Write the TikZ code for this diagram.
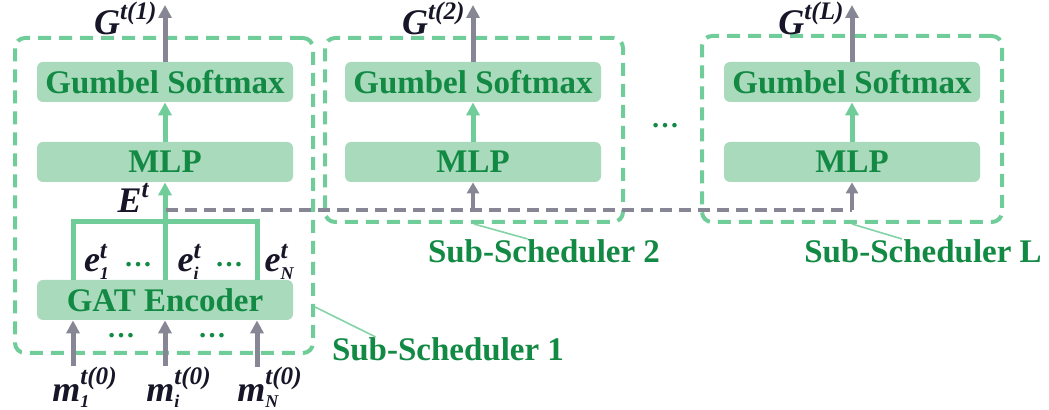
\documentclass[tikz,border=0pt]{standalone}
\usepackage{amsmath}
\usepackage{fontspec}
\setmainfont{Liberation Serif}
\usetikzlibrary{arrows.meta,positioning,fit}
\definecolor{lnGreen}{RGB}{112,204,152}
\definecolor{boxFill}{RGB}{170,218,188}
\definecolor{txtGreen}{RGB}{18,138,68}
\definecolor{leadGreen}{RGB}{130,212,166}
\definecolor{arrGray}{RGB}{134,134,148}
\definecolor{labInk}{RGB}{22,22,40}
\newcommand{\vb}[1]{\textbf{\textit{#1}}}
\newcommand{\vs}[1]{{\scriptscriptstyle\textbf{\textit{#1}}}}

\begin{document}
\begin{tikzpicture}[x=0.5pt,y=-0.5pt,
  blk/.style={fill=boxFill,rounded corners=3pt,minimum width=128pt,minimum height=20pt,inner sep=0pt,
    text=txtGreen,font=\fontsize{16.5}{18}\selectfont\bfseries},
  grp/.style={draw=lnGreen,line width=2pt,dash pattern=on 6.5pt off 4pt,rounded corners=5pt,inner sep=0pt},
  garr/.style={draw=arrGray,line width=2.5pt,-{Triangle[width=6.5pt,length=6.5pt]}},
  sarr/.style={draw=arrGray,line width=1.6pt,-{Triangle[width=6pt,length=5.5pt]}},
  narr/.style={draw=lnGreen,line width=2.5pt,-{Triangle[width=6.5pt,length=6.5pt]}},
  brk/.style={draw=lnGreen,line width=2.5pt},
  gdash/.style={draw=arrGray,line width=1.6pt,dash pattern=on 6pt off 3.5pt},
  lab/.style={text=labInk,font=\fontsize{18}{20}\selectfont,inner sep=0pt},
  subcap/.style={text=txtGreen,font=\fontsize{16.5}{18}\selectfont\bfseries,inner sep=0pt},
  dots/.style={text=txtGreen,font=\fontsize{14}{15}\selectfont\bfseries,inner sep=0pt},
  lead/.style={draw=leadGreen,line width=0.8pt}]
\useasboundingbox (0,0) rectangle (1049,410);

% sub-scheduler frames
\node[grp,fit={(15,38) (313,353)}] (sub1) {};
\node[grp,fit={(325,38) (623,222)}] (sub2) {};
\node[grp,fit={(702,36) (1002,222)}] (subL) {};

% blocks
\node[blk] (gs1) at (165,82) {Gumbel Softmax};
\node[blk] (mlp1) at (165,162) {MLP};
\node[blk] (gat) at (165,300) {GAT Encoder};
\node[blk] (gs2) at (473,82) {Gumbel Softmax};
\node[blk] (mlp2) at (473,162) {MLP};
\node[blk] (gsL) at (852,82) {Gumbel Softmax};
\node[blk] (mlpL) at (852,162) {MLP};

% outputs
\coordinate (o1) at (gs1.north |- 0,5);
\coordinate (o2) at (gs2.north |- 0,5);
\coordinate (oL) at (gsL.north |- 0,5);
\draw[garr] (gs1.north) -- (o1);
\draw[garr] (gs2.north) -- (o2);
\draw[garr] (gsL.north) -- (oL);
\node[lab,anchor=north east] (g1) at (158,2) {$\vb{G}^{\vb{t(1)}}$};
\node[lab,anchor=north east] (g2) at (466,2) {$\vb{G}^{\vb{t(2)}}$};
\node[lab,anchor=north east] (gL) at (845,2) {$\vb{G}^{\vb{t(L)}}$};

\draw[narr] (mlp1) -- (gs1);
\draw[narr] (mlp2) -- (gs2);
\draw[narr] (mlpL) -- (gsL);

% node embeddings
\coordinate (k1) at ([xshift=-46pt]gat.north);
\coordinate (ki) at (gat.north);
\coordinate (kN) at ([xshift=46pt]gat.north);
\coordinate (ej) at (165,222);
\draw[brk] (k1) |- (ej) -| (kN);
\draw[narr] (gat) -- (mlp1);
\node[lab] (E) at (134,198) {$\vb{E}^{\vb{t}}$};
\node[lab] (e1) at (97,262) {$\vb{e}^{\vb{t}}_{\vs{1}}$};
\node[dots] (d1) at (138,265) {\ldots};
\node[lab] (ei) at (190,262) {$\vb{e}^{\vb{t}}_{\vs{i}}$};
\node[dots] (d2) at (229,265) {\ldots};
\node[lab] (eN) at (280,262) {$\vb{e}^{\vb{t}}_{\vs{N}}$};

% shared embedding to later sub-schedulers
\coordinate (ed) at (166,210);
\draw[gdash] (ed) -- (ed -| mlpL.south);
\draw[sarr] (ed -| mlp2.south) -- (mlp2.south);
\draw[sarr] (ed -| mlpL.south) -- (mlpL.south);

% inputs
\node[lab] (m1) at (85,387) {$\vb{m}^{\vb{t(0)}}_{\vs{1}}$};
\node[lab] (mi) at (179,387) {$\vb{m}^{\vb{t(0)}}_{\vs{i}}$};
\node[lab] (mN) at (270,387) {$\vb{m}^{\vb{t(0)}}_{\vs{N}}$};
\draw[garr] (m1.north -| k1) -- (gat.south -| k1);
\draw[garr] (mi.north -| ki) -- (gat.south -| ki);
\draw[garr] (mN.north -| kN) -- (gat.south -| kN);
\node[dots] (d3) at (121,336) {\ldots};
\node[dots] (d4) at (212,336) {\ldots};
\node[dots] (d5) at (665,126) {\ldots};

% captions
\node[subcap] (lab1) at (448,349) {Sub-Scheduler 1};
\node[subcap] (lab2) at (544,251) {Sub-Scheduler 2};
\node[subcap] (labL) at (923,251) {Sub-Scheduler L};
\draw[lead] (sub1.east |- 0,307) -- ([xshift=22pt]lab1.north west);
\draw[lead] (sub2.south) -- ([xshift=50pt]lab2.north west);
\draw[lead] (subL.south) -- ([xshift=49pt]labL.north west);
\end{tikzpicture}
\end{document}
